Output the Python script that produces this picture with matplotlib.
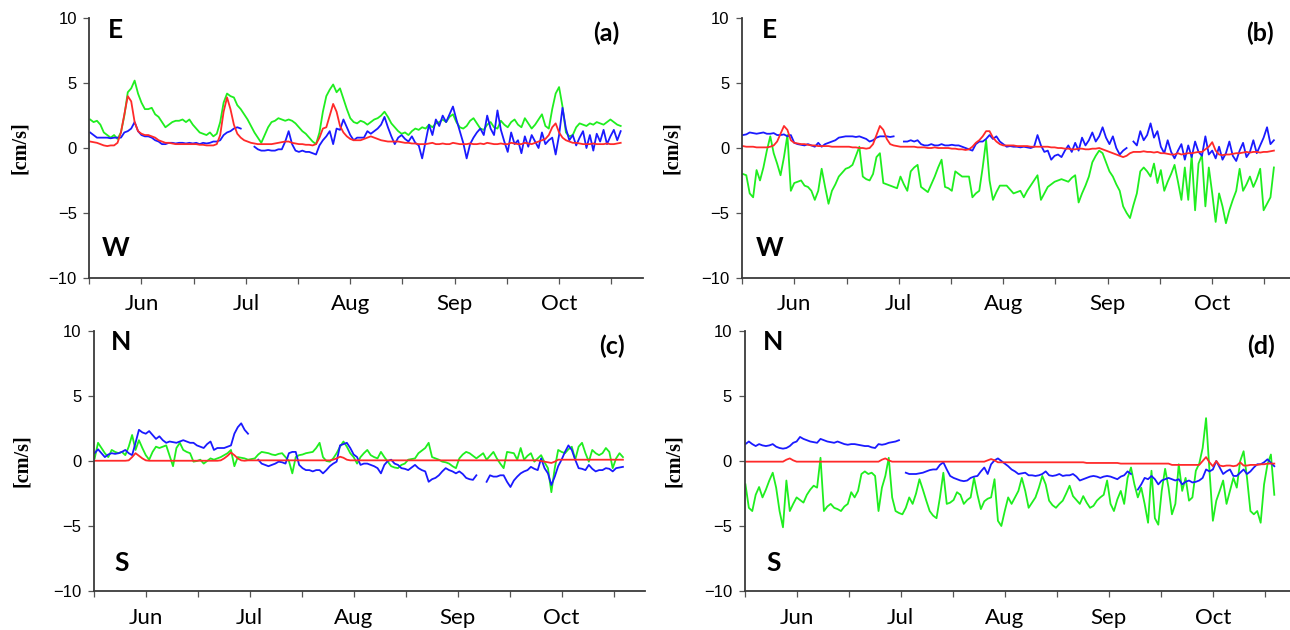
import numpy as np
import matplotlib
matplotlib.use("Agg")
import matplotlib.pyplot as plt

nan = np.nan

# day index: 0 = 16 May
days = np.arange(1, 157)
month_pos = [16, 46.5, 77, 107.5, 138]
month_names = ['Jun', 'Jul', 'Aug', 'Sep', 'Oct']
half_pos = [0.75, 31.25, 61.75, 92.25, 122.75, 153.25]
y_ticks = [-10, -5, 0, 5, 10]

# ---- panel (a): E-W ----
a_green = [2.2, 2.0, 2.1, 1.8, 1.2, 1.0, 0.8, 1.0, 0.7, 1.2,
           2.5, 4.3, 4.6, 5.2, 4.2, 3.5, 3.0, 3.0, 3.1, 2.6,
           2.4, 2.0, 1.6, 1.8, 2.0, 2.1, 2.1, 2.2, 2.0, 2.2,
           1.8, 1.5, 1.2, 1.1, 1.0, 1.2, 0.9, 1.1, 2.0, 3.5,
           4.2, 4.0, 3.9, 3.3, 3.0, 2.6, 2.2, 1.7, 1.2, 0.8,
           0.4, 1.0, 1.6, 2.0, 2.1, 2.3, 2.2, 2.1, 2.2, 2.1,
           1.9, 1.6, 1.3, 1.1, 0.8, 0.5, 0.3, 1.2, 2.8, 4.0,
           4.5, 4.9, 4.3, 4.6, 3.8, 3.0, 2.3, 2.0, 1.9, 2.1,
           2.0, 1.8, 2.0, 2.2, 2.3, 2.5, 2.8, 2.4, 1.9, 1.6,
           1.3, 1.1, 1.2, 1.0, 1.3, 1.5, 1.4, 1.6, 1.5, 1.8,
           1.6, 1.9, 2.0, 2.2, 2.0, 2.4, 2.6, 2.0, 1.6, 1.5,
           1.7, 2.1, 2.3, 1.9, 1.5, 1.4, 1.8, 2.0, 1.6, 1.5,
           2.1, 1.8, 1.6, 2.0, 2.2, 1.8, 1.6, 2.3, 1.9, 1.5,
           1.8, 2.2, 2.6, 1.7, 1.5, 3.0, 4.2, 4.7, 3.2, 1.2,
           0.9, 1.0, 1.6, 1.9, 1.8, 1.7, 1.9, 1.8, 2.0, 1.9,
           1.8, 2.0, 2.2, 2.0, 1.8, 1.7]
a_blue = [1.2, 1.0, 0.8, 0.8, 0.8, 0.8, 0.75, 0.8, 0.8, 0.8,
          1.2, 1.3, 1.5, 2.0, 1.3, 1.0, 0.9, 0.9, 0.8, 0.6,
          0.5, 0.3, 0.3, 0.4, 0.4, 0.35, 0.4, 0.4, 0.35, 0.4,
          0.35, 0.4, 0.3, 0.4, 0.35, 0.4, 0.5, 0.5, 0.6, 1.0,
          1.2, 1.3, 1.5, 1.6, 1.5, nan, nan, nan, 0.1, -0.1,
          -0.2, -0.2, -0.15, -0.2, -0.2, -0.1, -0.1, 0.5, 1.3, 0.3,
          -0.2, -0.3, -0.2, -0.3, -0.3, -0.4, -0.5, 0.2, 0.6, 0.9,
          1.3, 0.3, 1.5, 1.4, 2.2, 1.6, 1.0, 0.6, 0.8, 0.8,
          0.8, 1.3, 1.1, 1.3, 1.5, 1.8, 2.4, 1.6, 0.9, 0.3,
          0.8, 1.0, 0.7, 0.5, 0.9, 0.4, 0.2, -0.8, 0.5, 1.8,
          1.0, 2.2, 1.7, 2.5, 2.0, 2.6, 3.2, 2.2, 1.3, 0.4,
          -0.8, 0.3, 0.8, 1.2, 1.5, 1.0, 2.5, 1.5, 1.0, 2.9,
          1.4, 0.5, -0.3, 1.2, 0.3, 0.6, -0.4, 0.9, 0.1, 1.0,
          0.5, 0.0, 1.2, 0.3, 0.6, 0.8, -0.5, 1.0, 3.1, 1.5,
          0.6, 1.0, 0.2, 0.8, 1.3, 0.0, 1.0, -0.2, 1.1, 0.5,
          1.4, 0.3, 0.9, 1.4, 0.6, 1.3]
a_red = [0.5, 0.45, 0.4, 0.3, 0.2, 0.15, 0.2, 0.2, 0.4, 1.2,
         2.6, 4.0, 3.6, 2.0, 1.3, 1.1, 1.0, 1.0, 0.9, 0.8,
         0.6, 0.5, 0.4, 0.4, 0.35, 0.3, 0.3, 0.3, 0.3, 0.3,
         0.3, 0.3, 0.25, 0.25, 0.2, 0.2, 0.2, 0.3, 1.0, 2.8,
         3.9, 3.0, 1.8, 1.1, 0.8, 0.6, 0.5, 0.4, 0.35, 0.3,
         0.3, 0.3, 0.3, 0.3, 0.35, 0.4, 0.45, 0.5, 0.5, 0.4,
         0.35, 0.3, 0.3, 0.25, 0.25, 0.2, 0.3, 0.8, 1.5, 1.6,
         2.5, 3.4, 2.8, 1.7, 1.2, 0.9, 0.7, 0.6, 0.6, 0.6,
         0.7, 0.8, 0.9, 0.8, 0.7, 0.6, 0.55, 0.5, 0.5, 0.5,
         0.5, 0.45, 0.4, 0.4, 0.35, 0.35, 0.3, 0.3, 0.3, 0.35,
         0.4, 0.3, 0.3, 0.35, 0.3, 0.3, 0.4, 0.35, 0.3, 0.3,
         0.3, 0.35, 0.3, 0.3, 0.35, 0.3, 0.4, 0.35, 0.3, 0.3,
         0.35, 0.3, 0.3, 0.4, 0.35, 0.3, 0.3, 0.4, 0.35, 0.3,
         0.4, 0.5, 0.6, 0.7, 1.0, 1.6, 1.9, 1.2, 0.8, 0.6,
         0.5, 0.4, 0.4, 0.35, 0.3, 0.3, 0.3, 0.35, 0.3, 0.3,
         0.3, 0.35, 0.3, 0.3, 0.35, 0.4]

# ---- panel (b): E-W ----
b_green = [-2.0, -2.1, -3.5, -3.8, -1.7, -2.5, -1.5, -0.2, 0.9, -0.4,
           -1.2, -2.1, -0.7, 1.0, -3.3, -2.7, -2.6, -2.5, -2.9, -3.0,
           -3.3, -4.0, -3.3, -1.6, -3.0, -4.3, -3.3, -2.8, -2.2, -1.9,
           -1.6, -1.5, -1.3, -0.6, 0.1, -2.2, -2.4, -2.5, -2.0, -0.7,
           -0.4, -2.7, -2.8, -2.9, -3.0, -3.1, -2.2, -2.8, -3.3, -1.8,
           -1.5, -1.3, -3.0, -3.2, -3.4, -2.8, -2.2, -1.5, -0.9, -3.0,
           -3.1, -3.3, -1.8, -2.0, -2.2, -2.2, -2.2, -3.8, -3.5, -3.3,
           -1.5, 0.6, -2.5, -4.0, -3.4, -2.9, -2.9, -2.9, -3.2, -3.5,
           -3.4, -3.3, -3.8, -3.3, -2.9, -2.5, -2.1, -4.0, -3.5, -3.0,
           -2.8, -2.6, -2.5, -2.4, -2.5, -2.6, -2.3, -2.1, -4.2, -3.5,
           -2.9, -2.2, -1.1, -0.6, -0.2, -0.4, -1.1, -1.8, -2.2, -2.8,
           -3.3, -4.5, -5.0, -5.4, -4.4, -3.5, -1.8, -1.5, -1.8, -2.2,
           -1.2, -2.7, -1.7, -3.3, -2.6, -2.0, -1.3, -2.6, -4.0, -1.5,
           -4.0, -0.55, -4.8, -1.2, -0.55, -4.5, -1.5, -3.5, -5.7, -3.5,
           -4.5, -5.8, -4.8, -4.0, -3.3, -1.6, -3.3, -2.8, -2.2, -3.0,
           -2.4, -1.6, -4.8, -4.3, -3.8, -1.5]
b_blue = [1.0, 1.05, 1.2, 1.15, 1.1, 1.15, 1.2, 1.1, 1.1, 1.15,
          1.0, 1.0, 1.05, 0.9, 1.0, 0.4, 0.3, 0.25, 0.2, 0.3,
          0.2, 0.1, 0.4, 0.1, 0.3, 0.4, 0.5, 0.6, 0.8, 0.85,
          0.9, 0.9, 0.9, 0.85, 0.9, 0.8, 0.7, 0.5, 0.6, 0.8,
          0.9, 0.9, 0.9, 0.85, 0.9, nan, nan, 0.5, 0.5, 0.6,
          0.5, 0.6, 0.3, 0.2, 0.2, 0.3, 0.2, 0.2, 0.3, 0.2,
          0.2, 0.25, 0.2, 0.2, 0.1, 0.0, -0.1, -0.2, 0.3, 0.5,
          0.5, 0.7, 1.0, 0.7, 0.9, 0.5, 0.3, 0.1, 0.15, 0.1,
          0.1, 0.05, 0.1, 0.05, 0.0, 0.1, 1.0, 0.2, -0.3, -0.2,
          -0.9, -0.6, -0.5, -0.7, -0.2, 0.2, -0.3, 0.4, -0.2, 0.8,
          0.2, 0.6, 1.2, 0.5, 0.9, 1.6, 0.8, 0.3, 0.9, 0.0,
          -0.5, -0.2, 0.0, nan, 0.5, 0.2, 1.3, 0.6, 1.0, 1.9,
          0.8, 1.3, 0.1, -0.4, 0.6, -0.3, -0.8, -0.2, 0.3, -0.9,
          0.2, -0.7, 0.5, -0.3, -0.6, 0.9, -0.5, -0.2, -0.8, 0.1,
          -0.9, -0.4, 0.5, -0.6, -1.0, -0.2, 0.4, -0.7, -0.3, 0.6,
          -0.4, 0.2, 0.8, 1.6, 0.3, 0.6]
b_red = [0.15, 0.1, 0.1, 0.1, 0.05, 0.05, 0.05, 0.05, 0.1, 0.2,
         0.5, 1.1, 1.7, 1.4, 0.6, 0.4, 0.35, 0.3, 0.3, 0.25,
         0.2, 0.2, 0.15, 0.15, 0.15, 0.15, 0.1, 0.1, 0.1, 0.1,
         0.1, 0.1, 0.05, 0.05, 0.0, 0.0, -0.05, 0.0, 0.3, 1.0,
         1.7, 1.4, 0.7, 0.3, 0.2, 0.15, 0.1, 0.1, 0.1, 0.1,
         0.1, 0.05, 0.05, 0.05, 0.0, 0.0, 0.05, 0.0, 0.0, 0.0,
         0.0, -0.05, -0.05, -0.1, -0.1, -0.15, -0.1, 0.1, 0.4, 0.6,
         0.9, 1.3, 1.3, 0.8, 0.5, 0.3, 0.2, 0.2, 0.2, 0.2,
         0.15, 0.15, 0.15, 0.15, 0.1, 0.1, 0.1, 0.1, 0.1, 0.1,
         0.05, 0.05, 0.0, 0.0, -0.05, -0.05, -0.1, -0.1, -0.05, -0.05,
         -0.1, -0.1, -0.05, -0.05, 0.0, -0.1, -0.2, -0.3, -0.4, -0.5,
         -0.6, -0.7, -0.6, -0.4, -0.3, -0.3, -0.3, -0.25, -0.3, -0.3,
         -0.35, -0.3, -0.4, -0.4, -0.45, -0.5, -0.5, -0.4, -0.5, -0.45,
         -0.4, -0.4, -0.35, -0.3, -0.3, -0.1, 0.1, 0.45, -0.2, -0.5,
         -0.55, -0.5, -0.5, -0.45, -0.4, -0.4, -0.35, -0.3, -0.35, -0.3,
         -0.3, -0.35, -0.3, -0.3, -0.25, -0.2]

# ---- panel (c): N-S ----
c_green = [0.2, 1.4, 1.0, 0.6, 0.3, 0.85, 0.7, 0.6, 0.7, 0.45,
           1.1, 2.0, 0.85, 1.6, 1.0, 0.45, 0.1, 0.7, 1.1, 1.0,
           1.1, 1.2, 0.4, -0.4, 1.0, 1.4, 0.85, 0.7, 0.6, -0.05,
           0.0, 0.1, -0.2, 0.0, 0.2, 0.1, 0.2, 0.3, 0.45, 0.6,
           0.85, -0.4, 0.3, 0.25, 0.2, 0.1, 0.15, 0.2, 0.5, 0.7,
           0.65, 0.6, 0.5, 0.45, 0.55, 0.6, 0.3, 0.0, -0.95, 0.3,
           0.45, 0.5, 0.6, 0.65, 0.7, 1.0, 1.4, 0.3, 0.0, -0.05,
           0.2, 0.6, 1.1, 1.5, 1.1, 0.6, 0.3, -0.2, 0.3, 0.6,
           0.85, 0.45, 0.3, 0.2, 0.7, 0.3, -0.05, -0.4, -0.5, -0.55,
           -0.3, -0.2, 0.1, 0.15, 0.2, 0.6, 0.8, 1.0, 1.4, 0.3,
           0.2, 0.1, -0.05, -0.1, -0.2, -0.4, -0.55, 0.2, 0.5, 0.7,
           0.6, 0.4, 0.2, 0.4, 0.6, 0.1, 0.4, 0.7, 0.2, -0.2,
           -0.55, 0.7, 0.65, 0.6, 0.1, 1.0, 0.1, 0.4, 0.6, -0.05,
           0.2, 0.45, -0.1, -0.55, -2.4, -0.55, 0.85, 0.7, 0.6, 0.9,
           1.1, 0.1, 1.1, 1.4, 0.6, -0.05, 0.85, 0.6, 0.45, 0.6,
           1.0, 0.7, -0.55, 0.2, 0.6, 0.3]
c_blue = [0.6, 0.9, 0.6, 0.3, 0.5, 0.6, 0.55, 0.6, 0.7, 0.85,
          0.6, 0.45, 1.4, 2.4, 2.2, 2.1, 2.3, 2.0, 1.7, 1.9,
          1.6, 1.4, 1.5, 1.45, 1.4, 1.5, 1.6, 1.5, 1.4, 1.4,
          1.2, 1.1, 1.0, 1.3, 1.5, 0.85, 1.0, 1.0, 1.0, 1.1,
          1.2, 2.1, 2.6, 2.9, 2.4, 2.1, nan, nan, 0.1, -0.2,
          -0.3, -0.4, -0.3, -0.2, -0.05, -0.1, -0.2, 0.6, 0.7, 0.7,
          -0.3, -0.55, -0.7, -0.7, -0.8, -0.7, -0.7, -0.95, -0.7, -0.4,
          -0.2, -0.05, 1.2, 1.3, 1.4, 1.0, 0.5, 0.3, -0.3, -0.2,
          -0.2, -0.3, -0.4, -0.55, -0.95, -0.3, 0.0, 0.1, -0.2, -0.3,
          -0.55, -0.6, -0.7, -0.5, -0.3, -0.55, -0.7, -0.8, -1.6, -1.4,
          -1.3, -1.1, -0.8, -0.55, -0.7, -0.8, -0.95, -0.8, -1.0, -1.3,
          -1.4, -1.45, -1.1, nan, nan, -1.6, -1.1, -1.2, -1.2, -1.1,
          -1.1, -1.6, -2.0, -1.5, -1.2, -0.95, -0.8, -0.7, -0.45, -0.6,
          -0.7, 0.2, -0.55, -0.95, -1.85, -1.2, -0.4, 0.1, 0.7, 1.2,
          0.85, 0.1, -0.55, -0.6, -0.7, -0.3, -0.6, -0.8, -0.7, -0.7,
          -0.55, -0.6, -0.8, -0.55, -0.5, -0.45]
c_red = [0.02, 0.02, 0.02, 0.02, 0.02, 0.02, 0.02, 0.02, 0.02, 0.02,
         0.05, 0.3, 0.6, 0.4, 0.2, 0.05, 0.02, 0.02, 0.02, 0.02,
         0.02, 0.02, 0.02, 0.02, 0.02, 0.02, 0.02, 0.02, 0.02, 0.02,
         0.02, 0.02, 0.02, 0.02, 0.02, 0.02, 0.02, 0.05, 0.2, 0.4,
         0.65, 0.45, 0.2, 0.05, 0.02, 0.05, 0.05, 0.05, 0.05, 0.05,
         0.05, 0.05, 0.05, 0.05, 0.05, 0.05, 0.05, 0.05, 0.05, 0.05,
         0.05, 0.05, 0.05, 0.05, 0.05, 0.05, 0.05, 0.05, 0.05, 0.05,
         0.1, 0.2, 0.33, 0.25, 0.1, 0.05, 0.05, 0.05, 0.05, 0.05,
         0.05, 0.05, 0.05, 0.05, 0.05, 0.05, 0.05, 0.05, 0.05, 0.05,
         0.05, 0.05, 0.05, 0.05, 0.05, 0.05, 0.05, 0.05, 0.05, 0.05,
         0.05, 0.05, 0.05, 0.05, 0.05, 0.05, 0.05, 0.05, 0.05, 0.05,
         0.05, 0.05, 0.05, 0.05, 0.05, 0.05, 0.05, 0.05, 0.05, 0.05,
         0.05, 0.05, 0.05, 0.05, 0.05, 0.05, 0.05, 0.05, 0.05, 0.05,
         0.05, 0.0, -0.05, -0.1, -0.15, -0.05, 0.1, 0.1, 0.1, 0.1,
         0.1, 0.1, 0.1, 0.1, 0.1, 0.1, 0.1, 0.1, 0.1, 0.1,
         0.1, 0.1, 0.1, 0.1, 0.1, 0.1]

# ---- panel (d): N-S ----
d_green = [-1.8, -3.6, -3.85, -2.6, -2.0, -2.8, -2.2, -1.5, -0.9, -2.05,
           -3.85, -5.1, -1.5, -3.85, -3.3, -2.8, -3.0, -3.2, -2.6, -2.2,
           -1.9, -2.05, 0.25, -3.85, -3.5, -3.3, -3.6, -3.7, -3.85, -3.5,
           -3.3, -2.4, -2.8, -2.3, -1.0, -0.8, -1.0, -0.9, -1.15, -3.85,
           -2.05, -1.15, 0.25, -2.8, -3.85, -4.0, -4.1, -3.6, -2.8, -3.3,
           -2.5, -1.4, -2.2, -3.05, -3.85, -4.2, -4.4, -2.8, -0.9, -3.3,
           -3.2, -3.0, -2.4, -2.6, -3.3, -3.0, -2.8, -1.3, -2.6, -3.7,
           -3.1, -2.9, -2.8, -1.4, -4.6, -5.0, -3.85, -2.8, -3.3, -2.8,
           -2.3, -1.3, -2.3, -3.6, -3.2, -2.8, -2.05, -1.15, -1.8, -3.05,
           -3.4, -3.6, -3.3, -3.05, -2.5, -1.9, -2.7, -3.0, -3.3, -2.7,
           -3.2, -3.6, -3.45, -3.05, -2.8, -2.6, -1.5, -3.3, -3.85, -2.95,
           -2.3, -3.3, -1.3, -0.5, -1.8, -2.8, -2.05, -3.3, -4.75, -0.75,
           -4.4, -4.9, -2.3, -0.6, -2.05, -4.1, -3.3, -0.25, -2.3, -1.3,
           -3.05, -2.8, -0.75, -0.2, 1.0, 3.3, -0.75, -4.6, -3.05, -2.3,
           -1.5, -3.3, -2.3, -1.3, -2.05, 0.0, 0.75, -1.3, -3.85, -4.1,
           -3.85, -4.75, -1.8, -0.25, 0.5, -2.6]
d_blue = [1.3, 1.5, 1.3, 1.15, 1.3, 1.2, 1.15, 1.2, 1.3, 1.1,
          1.0, 0.95, 1.0, 1.15, 1.4, 1.5, 1.85, 1.7, 1.6, 1.5,
          1.45, 1.4, 1.7, 1.6, 1.5, 1.45, 1.4, 1.5, 1.4, 1.3,
          1.25, 1.3, 1.3, 1.25, 1.2, 1.15, 1.15, 1.05, 1.0, 1.3,
          1.25, 1.3, 1.4, 1.45, 1.5, 1.6, nan, -0.9, -1.0, -1.0,
          -1.0, -0.95, -0.9, -0.8, -0.7, -0.65, -0.65, -0.3, -0.1, -0.65,
          -1.15, -1.3, -1.4, -1.5, -1.55, -1.5, -1.3, -1.2, -1.15, -0.8,
          -0.5, -1.0, -0.25, 0.05, 0.2, 0.0, -0.2, -0.4, -0.65, -0.8,
          -1.0, -0.95, -0.9, -1.1, -1.1, -1.15, -1.1, -1.0, -0.8, -1.1,
          -1.15, -1.1, -1.0, -1.15, -1.1, -1.1, -1.0, -1.2, -1.5, -1.4,
          -1.3, -1.2, -1.15, -1.2, -1.3, -1.2, -1.15, -1.2, -1.3, -1.4,
          -1.2, -1.1, -0.8, -1.0, nan, -2.2, -1.8, -1.3, -1.4, -1.15,
          -1.4, -1.8, -1.5, -1.4, -1.3, -1.4, -1.5, -1.4, -1.8, -1.6,
          -1.5, -1.65, -1.6, -1.5, -1.3, -0.65, -0.8, -0.65, 0.0, -0.5,
          -1.0, -0.8, -0.65, -1.15, -1.15, -0.9, -0.65, -1.0, -0.8, -0.5,
          -0.25, -0.25, -0.1, 0.13, -0.13, -0.4]
d_red = [-0.05, -0.05, -0.05, -0.05, -0.05, -0.05, -0.05, -0.05, -0.05, -0.05,
         -0.05, -0.05, 0.1, 0.2, 0.05, -0.05, -0.05, -0.05, -0.05, -0.05,
         -0.05, -0.05, -0.05, -0.05, -0.05, -0.05, -0.05, -0.05, -0.05, -0.05,
         -0.05, -0.05, -0.05, -0.05, -0.05, -0.05, -0.05, -0.05, -0.05, -0.05,
         0.1, 0.2, 0.05, -0.05, -0.05, -0.05, -0.05, -0.05, -0.05, -0.05,
         -0.05, -0.05, -0.05, -0.05, -0.05, -0.05, -0.05, -0.05, -0.05, -0.05,
         -0.05, -0.05, -0.05, -0.05, -0.05, -0.05, -0.05, -0.05, -0.05, -0.05,
         -0.05, 0.05, 0.15, 0.05, -0.1, -0.1, -0.1, -0.1, -0.1, -0.1,
         -0.1, -0.1, -0.1, -0.1, -0.1, -0.1, -0.1, -0.1, -0.1, -0.1,
         -0.1, -0.1, -0.1, -0.1, -0.1, -0.1, -0.1, -0.1, -0.1, -0.1,
         -0.15, -0.15, -0.15, -0.15, -0.15, -0.15, -0.15, -0.15, -0.15, -0.15,
         -0.2, -0.2, -0.2, -0.2, -0.2, -0.2, -0.2, -0.2, -0.2, -0.2,
         -0.2, -0.2, -0.2, -0.2, -0.2, -0.3, -0.3, -0.3, -0.3, -0.3,
         -0.3, -0.3, -0.3, -0.3, 0.0, 0.3, -0.1, -0.4, 0.0, -0.35,
         -0.4, -0.35, -0.35, -0.4, -0.35, -0.1, -0.35, -0.35, -0.3, -0.3,
         -0.3, -0.25, -0.25, -0.2, -0.2, -0.2]

panels = [
    dict(rect=[0.0692, 0.5592, 0.4292, 0.4117], xmax=162.5,
         data=(a_green, a_blue, a_red), top='E', bot='W', tag='(a)',
         lx=0.048, tx=0.934, ylab=-0.125, ty=(0.955, 0.116, 0.941)),
    dict(rect=[0.5752, 0.5592, 0.4248, 0.4117], xmax=160.7,
         data=(b_green, b_blue, b_red), top='E', bot='W', tag='(b)',
         lx=0.05, tx=0.945, ylab=-0.128, ty=(0.955, 0.116, 0.941)),
    dict(rect=[0.0727, 0.0619, 0.4271, 0.4127], xmax=162.4,
         data=(c_green, c_blue, c_red), top='N', bot='S', tag='(c)',
         lx=0.05, tx=0.94, ylab=-0.131, ty=(0.956, 0.106, 0.94)),
    dict(rect=[0.5772, 0.0619, 0.4228, 0.4127], xmax=160.6,
         data=(d_green, d_blue, d_red), top='N', bot='S', tag='(d)',
         lx=0.053, tx=0.947, ylab=-0.13, ty=(0.956, 0.106, 0.94)),
]

colors = ['#1fee1f', '#1a1aff', '#ff2a2a']

fig = plt.figure(figsize=(12.9, 6.3), dpi=100)

for p in panels:
    ax = fig.add_axes(p['rect'])
    for vals, col in zip(p['data'], colors):
        ax.plot(days[:len(vals)], vals, color=col, lw=1.3)
    ax.set_xlim(0.75, p['xmax'])
    ax.set_ylim(-10, 10)
    for s in ['top', 'right']:
        ax.spines[s].set_visible(False)
    for s in ['left', 'bottom']:
        ax.spines[s].set_color('#3a3a3a')
        ax.spines[s].set_linewidth(1.3)
    ax.set_yticks(y_ticks)
    ax.set_yticklabels([str(t).replace('-', '\u2212') for t in y_ticks],
                       fontfamily='Liberation Sans', fontsize=12)
    ax.set_xticks(month_pos)
    ax.set_xticklabels(month_names, fontfamily='Lato', fontsize=16)
    ax.set_xticks(half_pos, minor=True)
    ax.tick_params(axis='both', which='both', direction='out', length=4,
                   width=0.9, color='#555555')
    ax.tick_params(axis='x', which='major', pad=8)
    ax.tick_params(axis='y', pad=5)
    ax.text(p['ylab'], 0.5, '[cm/s]', transform=ax.transAxes, rotation=90,
            ha='center', va='center', fontfamily='Liberation Serif',
            fontweight='bold', fontsize=14.5)
    ax.text(p['lx'], p['ty'][0], p['top'], transform=ax.transAxes,
            ha='center', va='center', fontfamily='Lato', fontweight='bold',
            fontsize=19)
    ax.text(p['lx'], p['ty'][1], p['bot'], transform=ax.transAxes,
            ha='center', va='center', fontfamily='Lato', fontweight='bold',
            fontsize=19)
    ax.text(p['tx'], p['ty'][2], p['tag'], transform=ax.transAxes,
            ha='center', va='center', fontfamily='Lato', fontweight='bold',
            fontsize=18)

fig.savefig('out.png', dpi=100)
